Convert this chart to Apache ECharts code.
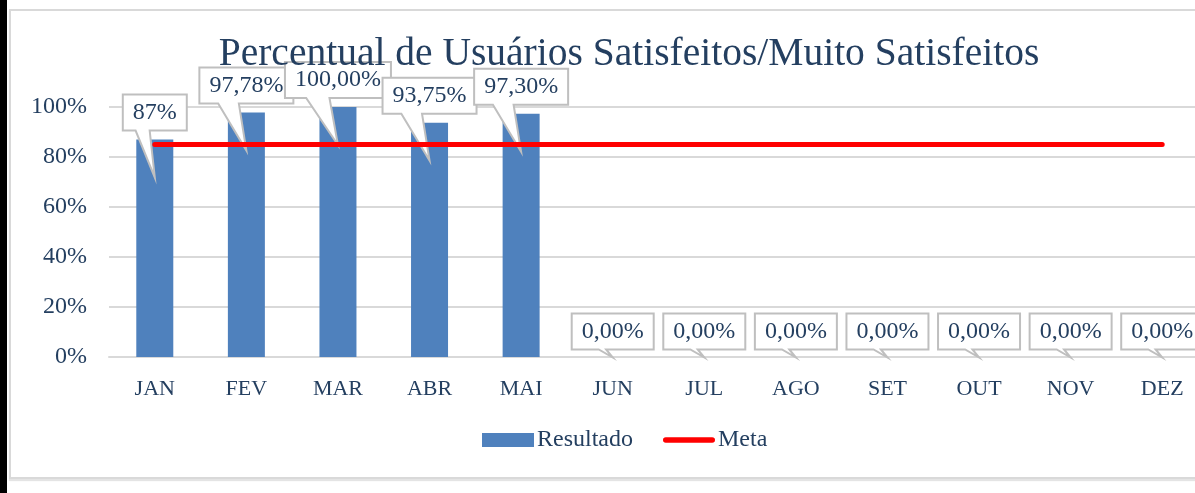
<!DOCTYPE html>
<html>
<head>
<meta charset="utf-8">
<script src="https://cdn.jsdelivr.net/npm/echarts@6/dist/echarts.min.js"></script>
<style>
  html, body { margin: 0; padding: 0; background: #fff; overflow: hidden; width: 1195px; height: 493px; }
  .faixa { position: absolute; left: 0; top: 0; width: 7px; height: 493px; background: #000; }
  .moldura { position: absolute; left: 9px; top: 9px; width: 1260px; height: 466px; border: 2px solid #d9d9d9; box-shadow: 0 2px 1px #e4e4e4; }
  #main { position: absolute; left: 0; top: 0; width: 1240px; height: 493px; }
</style>
</head>
<body>
<div class="faixa"></div>
<div class="moldura"></div>
<div id="main"></div>
<script>
// dados do grafico
let meses = ["JAN", "FEV", "MAR", "ABR", "MAI", "JUN", "JUL", "AGO", "SET", "OUT", "NOV", "DEZ"];
let resultado = [0.87, 0.9778, 1.0, 0.9375, 0.973, 0, 0, 0, 0, 0, 0, 0];
let meta = [0.85, 0.85, 0.85, 0.85, 0.85, 0.85, 0.85, 0.85, 0.85, 0.85, 0.85, 0.85];
let rotulos = ["87%", "97,78%", "100,00%", "93,75%", "97,30%", "0,00%", "0,00%", "0,00%", "0,00%", "0,00%", "0,00%", "0,00%"];

let corTexto = '#243F60';
let fonte = '"Liberation Serif", "Times New Roman", serif';

// medir largura do texto dos rotulos
let ctx = document.createElement('canvas').getContext('2d');
ctx.font = '24px ' + fonte;

let balaoData = [];
resultado.forEach(function (v, i) {
    balaoData.push([i, v]);
});

var myChart = echarts.init(document.getElementById('main'));

var option = {
    animation: false,
    title: {
        text: 'Percentual de Usuários Satisfeitos/Muito Satisfeitos',
        left: 624,
        textAlign: 'center',
        top: 30,
        textStyle: { fontFamily: fonte, fontSize: 39.5, fontWeight: 'normal', color: corTexto }
    },
    legend: {
        left: 482,
        top: 428,
        padding: 0,
        itemWidth: 52,
        itemHeight: 14,
        itemGap: 30,
        textStyle: { fontFamily: fonte, fontSize: 24, color: corTexto, padding: [0, 0, 0, -2] },
        data: [
            { name: 'Resultado', icon: 'rect' },
            { name: 'Meta', icon: 'path://M3,0 L53,0 A3,3 0 0 1 53,6 L3,6 A3,3 0 0 1 3,0 Z', itemStyle: { borderWidth: 0 } }
        ]
    },
    grid: { left: 109, right: 32, top: 107, height: 250 },
    xAxis: {
        type: 'category',
        data: meses,
        axisLine: { lineStyle: { color: '#d9d9d9', width: 2 } },
        axisTick: { show: false },
        axisLabel: { margin: 21, fontFamily: fonte, fontSize: 22, color: corTexto }
    },
    yAxis: {
        type: 'value',
        min: 0,
        max: 1,
        interval: 0.2,
        axisLine: { show: false },
        axisTick: { show: false },
        splitLine: { lineStyle: { color: '#d9d9d9', width: 2 } },
        axisLabel: {
            margin: 22,
            fontFamily: fonte,
            fontSize: 24,
            color: corTexto,
            formatter: function (v) { return Math.round(v * 100) + '%'; }
        }
    },
    series: [
        {
            name: 'Resultado',
            type: 'bar',
            data: resultado,
            barWidth: 37,
            itemStyle: { color: '#4F81BD' },
            z: 2
        },
        {
            name: 'balao',
            type: 'custom',
            data: balaoData,
            z: 3,
            silent: true,
            renderItem: function (params, api) {
                let i = api.value(0);
                let v = api.value(1);
                let p = api.coord([i, v]);
                let txt = rotulos[i];
                let w = Math.round(ctx.measureText(txt).width) + 20;
                let h = 36;
                let cx = p[0];
                let tipY = p[1] + (v > 0 ? 38 : 0.5);
                let y1 = tipY - (v > 0 ? 47 : 8);
                let y0 = y1 - h;
                let x0 = cx - w / 2;
                let x1 = cx + w / 2;
                let bl = cx - w * (v > 0 ? 0.3 : 0.17);
                let br = cx - w * 0.08;
                return {
                    type: 'group',
                    children: [
                        {
                            type: 'polygon',
                            shape: { points: [[x0, y0], [x1, y0], [x1, y1], [br, y1], [cx, tipY], [bl, y1], [x0, y1]] },
                            style: { fill: '#fff', stroke: '#bfbfbf', lineWidth: 2 }
                        },
                        {
                            type: 'text',
                            x: cx,
                            y: (y0 + y1) / 2,
                            style: {
                                text: txt,
                                fill: corTexto,
                                font: '24px ' + fonte,
                                align: 'center',
                                verticalAlign: 'middle'
                            }
                        }
                    ]
                };
            }
        },
        {
            name: 'Meta',
            type: 'line',
            data: meta,
            symbol: 'none',
            z: 4,
            itemStyle: { color: '#FF0000' },
            lineStyle: { color: '#FF0000', width: 5, cap: 'round' }
        }
    ]
};

myChart.setOption(option);
</script>
</body>
</html>
